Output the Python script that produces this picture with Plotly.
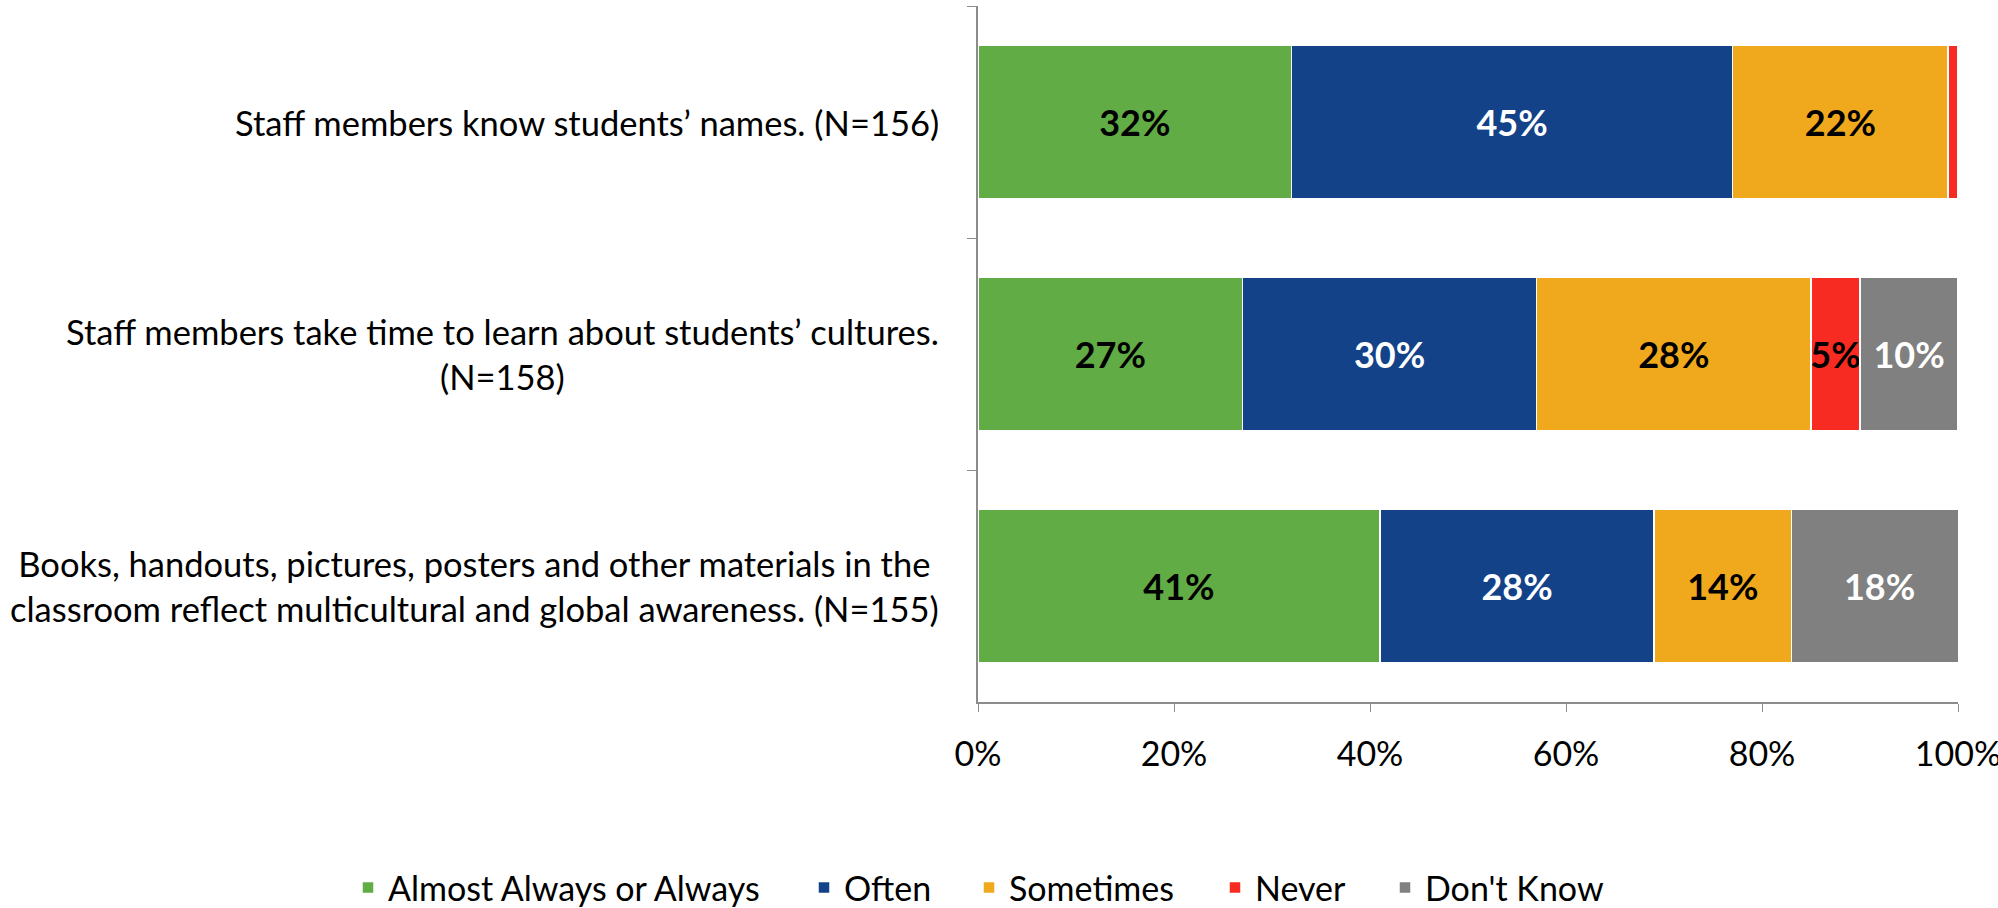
import plotly.graph_objects as go

categories = [
    "Staff members know students\u2019 names. (N=156)",
    "Staff members take time to learn about students\u2019 cultures.<br>(N=158)",
    "Books, handouts, pictures, posters and other materials in the<br>classroom reflect multicultural and global awareness. (N=155)",
]
series_names = ["Almost Always or Always", "Often", "Sometimes", "Never", "Don't Know"]
almost_always = [32, 27, 41]
often = [45, 30, 28]
sometimes = [22, 28, 14]
never = [1, 5, 0]
dont_know = [0, 10, 18]
x_ticks = [0, 20, 40, 60, 80, 100]
x_tick_labels = ["0%", "20%", "40%", "60%", "80%", "100%"]

colors = ["#62AC46", "#134289", "#F0A91D", "#F72B21", "#808080"]
text_colors = ["black", "white", "black", "black", "white"]
values = [almost_always, often, sometimes, never, dont_know]

# left edges (px) of the individual legend entries, laid out in one row
legend_left_px = [348, 804, 969, 1215, 1385]
PLOT_L, PLOT_W = 978, 980

FONT = "Lato"
fig = go.Figure()
legend_names = ["legend"] + [f"legend{i}" for i in range(2, len(series_names) + 1)]
for name, vals, col, tcol, lg in zip(series_names, values, colors, text_colors, legend_names):
    fig.add_trace(go.Bar(
        y=categories, x=vals, name=name, orientation="h",
        marker=dict(color=col, line=dict(color="white", width=1.5)),
        text=[f"{v}%" if v >= 2 else "" for v in vals],
        textposition="inside", insidetextanchor="middle", textangle=0,
        constraintext="none", cliponaxis=True,
        textfont=dict(family=FONT, size=36, color=tcol, weight="bold"),
        hoverinfo="skip", legend=lg, showlegend=True,
    ))

for c in categories:
    fig.add_annotation(
        x=0, xref="paper", y=c, yref="y", xanchor="right", yanchor="middle",
        xshift=-37, text=c, showarrow=False, align="center",
        font=dict(family=FONT, size=34.5, color="black"),
    )

legend_style = {}
for lg, left in zip(legend_names, legend_left_px):
    legend_style[lg] = dict(orientation="h", xref="paper", yref="paper",
                            x=(left - PLOT_L) / PLOT_W, xanchor="left",
                            y=-0.267, yanchor="middle", bgcolor="rgba(0,0,0,0)",
                            font=dict(family=FONT, size=34, color="black"))

fig.update_layout(
    barmode="stack", bargap=0.34,
    width=1998, height=908,
    margin=dict(l=PLOT_L, r=1998 - PLOT_L - PLOT_W, t=6, b=206, autoexpand=False),
    plot_bgcolor="white", paper_bgcolor="white",
    font=dict(family=FONT, size=34, color="black"),
    showlegend=True,
    **legend_style,
)
fig.update_xaxes(range=[0, 100], tickvals=x_ticks, ticktext=x_tick_labels,
                 showgrid=False, zeroline=False, showline=True, linecolor="#8C8C8C",
                 linewidth=1.5, ticks="outside", ticklen=8, tickcolor="#8C8C8C",
                 ticklabelstandoff=13, ticklabeloverflow="allow", automargin=False,
                 tickfont=dict(family=FONT, size=34, color="black"))
fig.update_yaxes(autorange="reversed", showticklabels=False, showline=True,
                 linecolor="#8C8C8C", linewidth=1.5, ticks="outside", ticklen=9,
                 tickcolor="#8C8C8C", tickson="boundaries", showgrid=False,
                 automargin=False)

fig.write_html("out.html", config={"displayModeBar": False},
               post_script="document.body.style.margin='0';document.body.style.overflow='hidden';")
